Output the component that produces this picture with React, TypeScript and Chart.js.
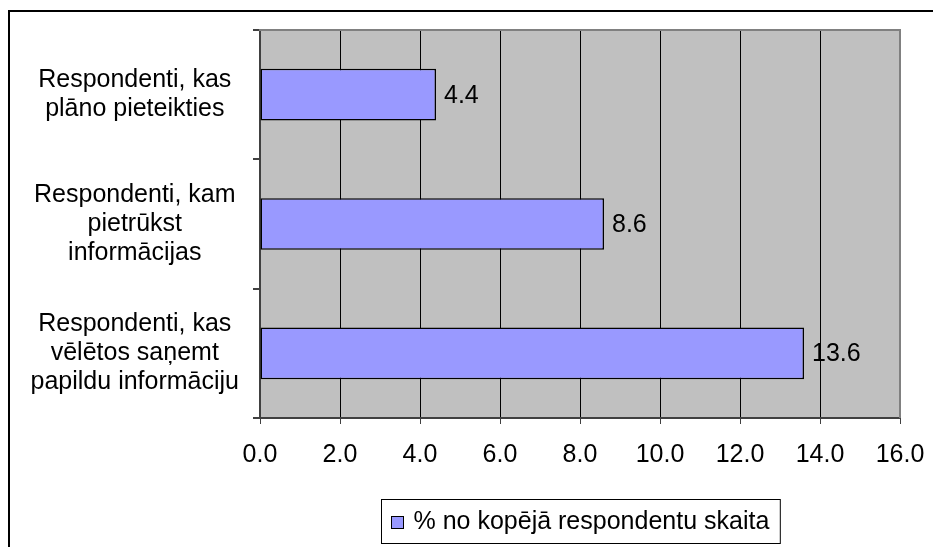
import React, { useEffect, useRef } from "react";
import { Chart, registerables } from "chart.js";

Chart.register(...registerables);

const categories: string[][] = [
  ["Respondenti, kas", "plāno pieteikties"],
  ["Respondenti, kam", "pietrūkst", "informācijas"],
  ["Respondenti, kas", "vēlētos saņemt", "papildu informāciju"],
];
const values: number[] = [4.4, 8.6, 13.6];
const seriesLabel = "% no kopējā respondentu skaita";
const xMin = 0;
const xMax = 16;
const xStep = 2;

const FONT = '"Liberation Sans", Arial, sans-serif';
const BAR_COLOR = "#9999FF";

const framePlugin = {
  id: "frame",
  beforeDraw(chart: any) {
    const { ctx, chartArea: a } = chart;
    ctx.save();
    ctx.fillStyle = "#ffffff";
    ctx.fillRect(0, 0, chart.width, chart.height);
    ctx.fillStyle = "#C0C0C0";
    ctx.fillRect(a.left, a.top, a.right - a.left, a.bottom - a.top);
    // outer border
    ctx.strokeStyle = "#000";
    ctx.lineWidth = 2;
    ctx.beginPath();
    ctx.moveTo(9, chart.height + 2);
    ctx.lineTo(9, 11);
    ctx.lineTo(chart.width + 2, 11);
    ctx.stroke();
    ctx.restore();
  },
  afterDraw(chart: any) {
    const { ctx, chartArea: a } = chart;
    ctx.save();
    ctx.strokeStyle = "#808080";
    ctx.lineWidth = 2;
    ctx.beginPath();
    ctx.moveTo(a.left - 1, a.top);
    ctx.lineTo(a.right, a.top);
    ctx.lineTo(a.right, a.bottom);
    ctx.stroke();
    ctx.restore();

    // legend
    ctx.save();
    ctx.font = `25px ${FONT}`;
    const tw = ctx.measureText(seriesLabel).width;
    const boxW = 10 + 12 + 10 + tw + 11;
    const boxH = 44;
    const cx = (a.left + a.right) / 2;
    const bx = Math.round(cx - boxW / 2) + 0.5;
    const by = 499.5;
    ctx.fillStyle = "#fff";
    ctx.fillRect(bx, by, boxW, boxH);
    ctx.strokeStyle = "#000";
    ctx.lineWidth = 1;
    ctx.strokeRect(bx, by, boxW, boxH);
    const my = by + boxH / 2;
    ctx.fillStyle = BAR_COLOR;
    ctx.fillRect(bx + 10, my - 5, 12, 12);
    ctx.strokeRect(bx + 10, my - 5, 12, 12);
    ctx.fillStyle = "#000";
    ctx.textAlign = "left";
    ctx.textBaseline = "middle";
    ctx.fillText(seriesLabel, bx + 32, my + 1);
    ctx.restore();
  },
  afterDatasetsDraw(chart: any) {
    const { ctx } = chart;
    const meta = chart.getDatasetMeta(0);
    ctx.save();
    ctx.font = `25px ${FONT}`;
    ctx.fillStyle = "#000";
    ctx.textAlign = "left";
    ctx.textBaseline = "middle";
    meta.data.forEach((bar: any, i: number) => {
      const v = chart.data.datasets[0].data[i] as number;
      ctx.fillText(v.toFixed(1), bar.x + 8, bar.y + 1);
    });
    ctx.restore();
  },
};

function zeroPad(scale: any) {
  scale.paddingTop = 0;
  scale.paddingBottom = 0;
  scale.paddingLeft = 0;
  scale.paddingRight = 0;
}

export default function App() {
  const ref = useRef<HTMLCanvasElement | null>(null);
  useEffect(() => {
    document.body.style.margin = "0";
    const canvas = ref.current!;
    const chart = new Chart(canvas, {
      type: "bar",
      data: {
        labels: categories,
        datasets: [
          {
            label: seriesLabel,
            data: values,
            backgroundColor: BAR_COLOR,
            borderColor: "#000",
            borderWidth: 1.5,
            borderSkipped: false,
            categoryPercentage: 1,
            barPercentage: 0.4,
          },
        ],
      },
      options: {
        indexAxis: "y",
        animation: false,
        responsive: false,
        maintainAspectRatio: false,
        events: [],
        layout: { padding: { top: 30, right: 33, left: 0, bottom: 0 } },
        plugins: {
          legend: { display: false },
          tooltip: { enabled: false },
          title: { display: false },
        },
        scales: {
          x: {
            min: xMin,
            max: xMax,
            afterFit(scale: any) {
              scale.height = 129;
              zeroPad(scale);
            },
            ticks: {
              stepSize: xStep,
              color: "#000",
              font: { family: FONT, size: 25 },
              padding: 16,
              maxRotation: 0,
              callback: (v: any) => Number(v).toFixed(1),
            },
            grid: {
              color: "#000",
              lineWidth: 1,
              tickLength: 6,
              tickColor: "#404040",
            },
            border: { color: "#404040", width: 2 },
          },
          y: {
            afterFit(scale: any) {
              scale.width = 260;
              zeroPad(scale);
            },
            ticks: {
              color: "#000",
              crossAlign: "center",
              padding: 14,
              font: { family: FONT, size: 25, lineHeight: 1.16 },
            },
            grid: {
              offset: true,
              drawOnChartArea: false,
              tickLength: 7,
              tickColor: "#404040",
              lineWidth: 2,
            },
            border: { color: "#404040", width: 2 },
          },
        },
      },
      plugins: [framePlugin],
    } as any);
    return () => chart.destroy();
  }, []);
  return (
    <div style={{ position: "relative", width: 933, height: 547 }}>
      <canvas ref={ref} width={933} height={547} style={{ display: "block" }} />
    </div>
  );
}
